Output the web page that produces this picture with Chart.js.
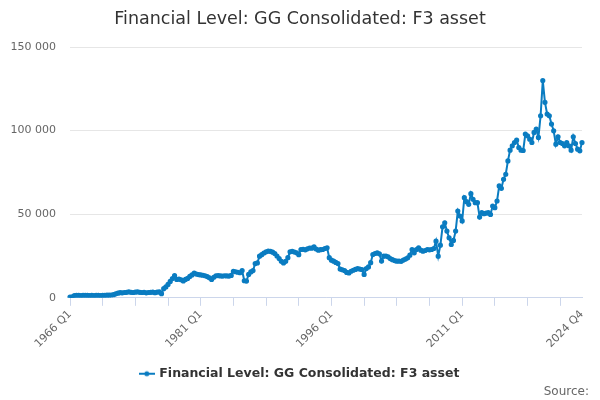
<!DOCTYPE html>
<html lang="en">
<head>
  <meta charset="UTF-8">
  <title>Financial Level: GG Consolidated: F3 asset</title>
  <script src="https://cdn.jsdelivr.net/npm/chart.js"></script>
  <style>
    html, body { margin: 0; padding: 0; background: #fff; }
    .chart-container { width: 600px; height: 400px; }
  </style>
</head>
<body>
  <div class="chart-container">
    <canvas id="levelChart"></canvas>
  </div>
  <script>
    // quarters 1966 Q1 .. 2024 Q4
    const firstYear = 1966;
    const lastYear = 2024;
    const seriesName = 'Financial Level: GG Consolidated: F3 asset';
    const sourceText = 'Source:';

    // values, one per quarter
    const values1966to1980 = [
      500, 600, 1400, 1500, 1500, 1400, 1500, 1500, 1500, 1400, 1500, 1400, 1500, 1500, 1400,
      1500, 1500, 1600, 1600, 1700, 1900, 2400, 2800, 3100, 3000, 3200, 3300, 3600, 3300, 3200,
      3400, 3600, 3300, 3200, 3300, 3000, 3200, 3300, 3400, 3100, 3400, 3600, 2500, 5500, 6500,
      8000, 9800, 11500, 13300, 11000, 11200, 10800, 10100, 11000, 11600, 12800, 13700, 14800, 14200, 13900
    ];
    const values1981to1995 = [
      13700, 13500, 13200, 12700, 12000, 11000, 12300, 13200, 13300, 13100, 13000, 13200, 13100, 13000, 13400,
      15900, 15600, 15300, 15000, 16300, 10200, 10000, 14000, 15500, 16300, 20500, 20900, 24900, 25800, 26800,
      27500, 27900, 27800, 27300, 26500, 25000, 23500, 21800, 20900, 21800, 24000, 27500, 27800, 27400, 26900,
      25800, 28900, 29000, 28700, 29300, 29800, 29700, 30500, 29200, 28500, 28800, 28900, 29500, 29900, 24000
    ];
    const values1996to2010 = [
      22500, 21900, 21200, 20500, 17200, 16800, 16300, 15200, 14900, 15900, 16500, 17000, 17500, 17200, 16900,
      14000, 17500, 18500, 21000, 25900, 26500, 26900, 26300, 22000, 24900, 25000, 24500, 23500, 22800, 22300,
      21900, 22000, 21800, 22600, 23200, 23900, 25500, 28900, 26900, 28900, 29900, 28500, 27900, 28300, 28900,
      28700, 28900, 29500, 33900, 24900, 31500, 42500, 44900, 39900, 35900, 31900, 34300, 39900, 51900, 48900
    ];
    const values2011to2024 = [
      46000, 59900, 57500, 55900, 62300, 58900, 56900, 56900, 48300, 50900, 50300, 50600, 50900, 49900, 54900,
      53900, 57900, 66900, 65500, 70900, 73900, 81900, 88300, 90900, 92900, 94300, 89900, 88300, 88100, 97900,
      96900, 94900, 92900, 98900, 100900, 95900, 108900, 129900, 116900, 109900, 108900, 103900, 99900, 91900, 96300,
      92900, 92300, 90900, 92900, 90900, 88300, 96300, 92300, 88900, 87900, 92900
    ];
    const seriesValues = [].concat(values1966to1980, values1981to1995, values1996to2010, values2011to2024);

    const quarterLabels = [];
    for (let y = firstYear; y <= lastYear; y++) {
      for (let q = 1; q <= 4; q++) quarterLabels.push(y + ' Q' + q);
    }

    const yTicks = [0, 50000, 100000, 150000];
    const lineColor = '#0a7cc1';
    const fontFamily = '"DejaVu Sans", Verdana, sans-serif';

    // legend symbol: short line with a dot in the middle
    const legendIcon = document.createElement('canvas');
    legendIcon.width = 16;
    legendIcon.height = 8;
    (function () {
      const c = legendIcon.getContext('2d');
      c.strokeStyle = lineColor;
      c.lineWidth = 2;
      c.beginPath();
      c.moveTo(0, 4);
      c.lineTo(16, 4);
      c.stroke();
      c.fillStyle = lineColor;
      c.beginPath();
      c.arc(8, 4, 2.5, 0, Math.PI * 2);
      c.fill();
    })();

    // "Source:" credit in the bottom right corner
    const sourceCredit = {
      id: 'sourceCredit',
      afterDraw(chart) {
        const c = chart.ctx;
        c.save();
        c.font = '12px ' + fontFamily;
        c.fillStyle = '#666';
        c.textAlign = 'right';
        c.textBaseline = 'middle';
        c.fillText(sourceText, chart.width - 11, chart.height - 8);
        c.restore();
      }
    };

    const ctx = document.getElementById('levelChart').getContext('2d');
    new Chart(ctx, {
      type: 'line',
      data: {
        labels: quarterLabels,
        datasets: [{
          label: seriesName,
          data: seriesValues,
          borderColor: lineColor,
          backgroundColor: lineColor,
          borderWidth: 2,
          pointRadius: 1.6,
          pointHoverRadius: 3,
          tension: 0
        }]
      },
      options: {
        responsive: true,
        maintainAspectRatio: false,
        animation: false,
        layout: { padding: { left: 0, right: 0, top: 0, bottom: 10 } },
        scales: {
          x: {
            offset: false,
            afterFit: s => { s.height += 11; },
            grid: {
              drawOnChartArea: false,
              drawTicks: true,
              tickLength: 8,
              color: c => (c.index % 15 === 0 ? '#ccd6eb' : 'rgba(0,0,0,0)')
            },
            border: { display: true, color: '#ccd6eb' },
            ticks: {
              autoSkip: false,
              maxRotation: 45,
              minRotation: 45,
              padding: 2,
              color: '#666',
              font: { family: fontFamily, size: 11 },
              callback: function (val, i) {
                if (i % 60 === 0 || i === quarterLabels.length - 1) return quarterLabels[i];
                return '';
              }
            }
          },
          y: {
            min: 0,
            max: 150000,
            afterFit: s => { s.width = 70; },
            afterBuildTicks: s => { s.ticks = yTicks.map(v => ({ value: v })); },
            grid: { color: '#e6e6e6', drawTicks: false },
            border: { display: false },
            ticks: {
              padding: 14,
              color: '#666',
              font: { family: fontFamily, size: 11 },
              callback: v => String(v).replace(/\B(?=(\d{3})+(?!\d))/g, ' ')
            }
          },
          // empty right-hand axis, only keeps a margin so title and legend stay centred
          yRight: {
            position: 'right',
            min: 0,
            max: 150000,
            afterFit: s => { s.width = 18; },
            grid: { display: false },
            border: { display: false },
            ticks: { display: false }
          }
        },
        plugins: {
          title: {
            display: true,
            text: seriesName,
            color: '#333',
            font: { family: fontFamily, size: 17.5, weight: 'normal' },
            padding: { top: 9, bottom: 17 }
          },
          legend: {
            position: 'bottom',
            labels: {
              usePointStyle: true,
              pointStyle: legendIcon,
              color: '#333',
              font: { family: fontFamily, size: 12.5, weight: 'bold' },
              padding: 4
            }
          },
          tooltip: { enabled: true }
        }
      },
      plugins: [sourceCredit]
    });
  </script>
</body>
</html>
